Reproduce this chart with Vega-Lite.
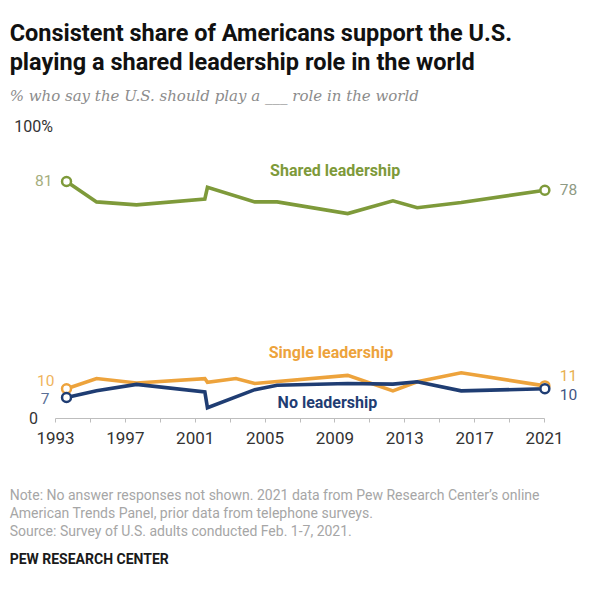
{
  "$schema": "https://vega.github.io/schema/vega-lite/v6.json",
  "background": "white",
  "padding": {"left": 9, "top": 21, "right": 5, "bottom": 5},
  "config": {"view": {"stroke": null}, "font": "Roboto"},
  "title": {
    "text": [
      "Note: No answer responses not shown. 2021 data from Pew Research Center’s online",
      "American Trends Panel, prior data from telephone surveys.",
      "Source: Survey of U.S. adults conducted Feb. 1-7, 2021."
    ],
    "subtitle": "PEW RESEARCH CENTER",
    "orient": "bottom",
    "anchor": "start",
    "frame": "bounds",
    "font": "Roboto",
    "fontSize": 14,
    "fontWeight": "normal",
    "color": "#a6a6a6",
    "lineHeight": 18,
    "offset": 43,
    "subtitleFont": "Roboto",
    "subtitleFontSize": 14,
    "subtitleFontWeight": "bold",
    "subtitleColor": "#1a1a1a",
    "subtitlePadding": 14
  },
  "datasets": {
    "trend": [
      {"series": "Shared", "year": 1993.66, "value": 81},
      {"series": "Shared", "year": 1995.38, "value": 74},
      {"series": "Shared", "year": 1997.67, "value": 73},
      {"series": "Shared", "year": 2001.58, "value": 75},
      {"series": "Shared", "year": 2001.73, "value": 79},
      {"series": "Shared", "year": 2004.44, "value": 74},
      {"series": "Shared", "year": 2005.72, "value": 74},
      {"series": "Shared", "year": 2009.76, "value": 70},
      {"series": "Shared", "year": 2012.35, "value": 74.4},
      {"series": "Shared", "year": 2013.74, "value": 72},
      {"series": "Shared", "year": 2016.26, "value": 73.8},
      {"series": "Shared", "year": 2021.05, "value": 78},
      {"series": "Single", "year": 1993.66, "value": 10},
      {"series": "Single", "year": 1995.38, "value": 13.5},
      {"series": "Single", "year": 1997.67, "value": 12},
      {"series": "Single", "year": 2001.58, "value": 13.5},
      {"series": "Single", "year": 2001.73, "value": 12.2},
      {"series": "Single", "year": 2003.36, "value": 13.5},
      {"series": "Single", "year": 2004.44, "value": 11.8},
      {"series": "Single", "year": 2009.76, "value": 14.6},
      {"series": "Single", "year": 2012.35, "value": 9.3},
      {"series": "Single", "year": 2013.74, "value": 12.4},
      {"series": "Single", "year": 2016.26, "value": 15.5},
      {"series": "Single", "year": 2021.05, "value": 11},
      {"series": "None", "year": 1993.66, "value": 7},
      {"series": "None", "year": 1995.38, "value": 9.3},
      {"series": "None", "year": 1997.67, "value": 11.5},
      {"series": "None", "year": 2001.58, "value": 8.9},
      {"series": "None", "year": 2001.73, "value": 3.5},
      {"series": "None", "year": 2004.44, "value": 9.7},
      {"series": "None", "year": 2005.72, "value": 11.2},
      {"series": "None", "year": 2009.76, "value": 11.8},
      {"series": "None", "year": 2012.35, "value": 11.6},
      {"series": "None", "year": 2013.74, "value": 12.4},
      {"series": "None", "year": 2016.26, "value": 9.3},
      {"series": "None", "year": 2021.05, "value": 10}
    ],
    "names": [
      {"series": "Shared", "name": "Shared leadership", "year": 2009.04, "value": 84.7},
      {"series": "Single", "name": "Single leadership", "year": 2008.8, "value": 22.4},
      {"series": "None", "name": "No leadership", "year": 2008.6, "value": 5.2}
    ]
  },
  "vconcat": [
    {
      "width": 489,
      "height": 292,
      "title": {
        "text": ["Consistent share of Americans support the U.S.", "playing a shared leadership role in the world"],
        "subtitle": "% who say the U.S. should play a ___ role in the world",
        "anchor": "start",
        "frame": "bounds",
        "font": "Roboto",
        "fontSize": 23.5,
        "fontWeight": "bold",
        "color": "#111111",
        "lineHeight": 29,
        "subtitleFont": "DejaVu Serif",
        "subtitleFontStyle": "italic",
        "subtitleFontSize": 15,
        "subtitleColor": "#8c8c8c",
        "subtitlePadding": 15,
        "offset": 14,
        "dx": -4
      },
      "data": {"name": "trend"},
      "encoding": {
        "x": {
          "field": "year",
          "type": "quantitative",
          "scale": {"domain": [1993, 2021], "nice": false, "zero": false},
          "axis": {
            "title": null,
            "grid": false,
            "values": [1993, 1995, 1997, 1999, 2001, 2003, 2005, 2007, 2009, 2011, 2013, 2015, 2017, 2019, 2021],
            "format": "d",
            "labelExpr": "(datum.value - 1993) % 4 == 0 ? datum.label : ''",
            "labelFlush": false,
            "labelOverlap": false,
            "labelFontSize": 17,
            "labelColor": "#333333",
            "labelPadding": 8,
            "domainColor": "#bdbdbd",
            "tickColor": "#bdbdbd",
            "tickSize": 4
          }
        },
        "y": {
          "field": "value",
          "type": "quantitative",
          "scale": {"domain": [0, 100], "nice": false},
          "axis": {
            "title": null,
            "grid": false,
            "domain": false,
            "ticks": false,
            "tickSize": 0,
            "values": [0, 100],
            "labelExpr": "datum.value == 100 ? '100%' : '0'",
            "labelAlign": "center",
            "labelBaseline": "middle",
            "labelPadding": 22,
            "labelFontSize": 16,
            "labelColor": "#333333"
          }
        }
      },
      "layer": [
        {
          "mark": {"type": "line", "strokeWidth": 3.6, "strokeJoin": "miter"},
          "encoding": {
            "color": {
              "field": "series",
              "type": "nominal",
              "scale": {"domain": ["Shared", "Single", "None"], "range": ["#7e9a3a", "#eda33c", "#1f3d73"]},
              "legend": null
            }
          }
        },
        {
          "transform": [{"filter": "datum.year < 1994 || datum.year > 2020"}],
          "mark": {"type": "point", "shape": "circle", "filled": false, "fill": "white", "fillOpacity": 1, "opacity": 1, "size": 80, "strokeWidth": 2.5},
          "encoding": {
            "color": {"field": "series", "type": "nominal", "legend": null}
          }
        },
        {
          "transform": [{"filter": "datum.year < 1994 && datum.series == 'Shared'"}],
          "mark": {"type": "text", "align": "right", "baseline": "middle", "dx": -14, "fontSize": 15.5, "color": "#a5ae7e"},
          "encoding": {"text": {"field": "value", "type": "quantitative"}}
        },
        {
          "transform": [{"filter": "datum.year < 1994 && datum.series == 'Single'"}],
          "mark": {"type": "text", "align": "right", "baseline": "middle", "dx": -12, "dy": -7.5, "fontSize": 15.5, "color": "#efb45c"},
          "encoding": {"text": {"field": "value", "type": "quantitative"}}
        },
        {
          "transform": [{"filter": "datum.year < 1994 && datum.series == 'None'"}],
          "mark": {"type": "text", "align": "right", "baseline": "middle", "dx": -17, "dy": 1, "fontSize": 15.5, "color": "#5b6f96"},
          "encoding": {"text": {"field": "value", "type": "quantitative"}}
        },
        {
          "transform": [{"filter": "datum.year > 2020 && datum.series == 'Shared'"}],
          "mark": {"type": "text", "align": "left", "baseline": "middle", "dx": 15, "fontSize": 15.5, "color": "#8e9a84"},
          "encoding": {"text": {"field": "value", "type": "quantitative"}}
        },
        {
          "transform": [{"filter": "datum.year > 2020 && datum.series == 'Single'"}],
          "mark": {"type": "text", "align": "left", "baseline": "middle", "dx": 15, "dy": -10, "fontSize": 15.5, "color": "#e8b04f"},
          "encoding": {"text": {"field": "value", "type": "quantitative"}}
        },
        {
          "transform": [{"filter": "datum.year > 2020 && datum.series == 'None'"}],
          "mark": {"type": "text", "align": "left", "baseline": "middle", "dx": 15, "dy": 6, "fontSize": 15.5, "color": "#3f5583"},
          "encoding": {"text": {"field": "value", "type": "quantitative"}}
        },
        {
          "data": {"name": "names"},
          "mark": {"type": "text", "align": "center", "baseline": "middle", "fontSize": 16, "fontWeight": "bold"},
          "encoding": {
            "text": {"field": "name", "type": "nominal"},
            "color": {"field": "series", "type": "nominal", "legend": null}
          }
        }
      ]
    }
  ]
}
